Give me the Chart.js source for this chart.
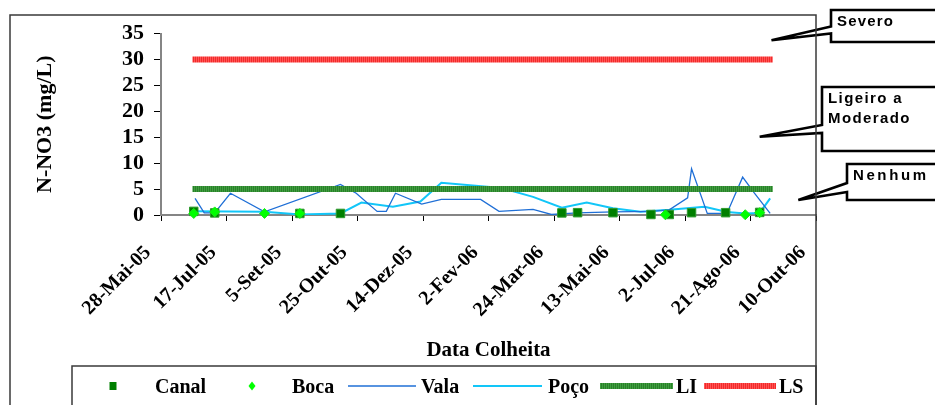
<!DOCTYPE html>
<html lang="pt">
<head>
<meta charset="utf-8">
<title>N-NO3 por data de colheita</title>
<script src="https://cdn.jsdelivr.net/npm/chart.js@4.4.1/dist/chart.umd.min.js"></script>
<style>
  html, body { margin: 0; padding: 0; background: #fff; }
  #wrap { width: 935px; height: 405px; position: relative; overflow: hidden; }
</style>
</head>
<body>
<div id="wrap"><canvas id="grafico" width="935" height="405"></canvas></div>
<script>
// Eixo das datas: dias contados a partir de 28-Mai-2005
const DATA_INICIO = Date.UTC(2005, 4, 28);
const tickStep = 50;
const tickLabels = ['28-Mai-05', '17-Jul-05', '5-Set-05', '25-Out-05', '14-Dez-05', '2-Fev-06',
                    '24-Mar-06', '13-Mai-06', '2-Jul-06', '21-Ago-06', '10-Out-06'];

// Canal (mg/L N-NO3)
const canalDatas = ['2005-06-22', '2005-07-08', '2005-09-11', '2005-10-12', '2006-03-30', '2006-04-11',
                    '2006-05-08', '2006-06-06', '2006-06-20', '2006-07-07', '2006-08-02', '2006-08-28'];
const canalValores = [0.7, 0.4, 0.3, 0.3, 0.4, 0.45, 0.45, 0.1, 0.1, 0.45, 0.45, 0.5];

// Boca
const bocaDatas = ['2005-06-22', '2005-07-08', '2005-08-15', '2005-09-11', '2006-06-17', '2006-08-17', '2006-08-28'];
const bocaValores = [0.3, 0.6, 0.3, 0.3, 0.05, 0.05, 0.45];

// Vala
const valaDatas = ['2005-06-23', '2005-06-30', '2005-07-08', '2005-07-20', '2005-08-15', '2005-10-12',
                   '2005-10-24', '2005-11-09', '2005-11-16', '2005-11-23', '2005-12-13', '2005-12-28',
                   '2006-01-27', '2006-02-10', '2006-03-08', '2006-03-22', '2006-04-11', '2006-05-08',
                   '2006-06-06', '2006-06-20', '2006-07-04', '2006-07-07', '2006-07-19', '2006-08-03',
                   '2006-08-15', '2006-08-24', '2006-09-05'];
const valaValores = [3.2, 0.4, 0.4, 4.2, 0.6, 5.9, 4.2, 0.7, 0.7, 4.2, 2.1, 3.0,
                     3.0, 0.7, 1.1, 0.1, 0.4, 0.6, 0.7, 1.0, 3.3, 8.9, 0.3, 0.3,
                     7.3, 4.2, 0.3];

// Poço
const pocoDatas = ['2005-06-22', '2005-08-15', '2005-09-11', '2005-10-12', '2005-10-28', '2005-11-21',
                   '2005-12-12', '2005-12-28', '2006-02-12', '2006-03-08', '2006-03-30', '2006-04-18',
                   '2006-05-08', '2006-05-29', '2006-06-20', '2006-07-17', '2006-08-03', '2006-08-17',
                   '2006-08-28', '2006-09-05'];
const pocoValores = [0.7, 0.65, 0.1, 0.3, 2.4, 1.6, 2.6, 6.2, 5.2, 3.5, 1.4, 2.4,
                     1.3, 0.65, 1.0, 1.6, 0.6, 0.3, 0.4, 3.2];

// Limites inferior (LI) e superior (LS)
const limiteDatas = ['2005-06-21', '2006-09-07'];
const liValores = [5, 5];
const lsValores = [30, 30];

// Classes de risco indicadas à direita do gráfico
const classesTexto = [['Severo'], ['Ligeiro a', 'Moderado'], ['Nenhum']];
const classesValor = [33.7, 15.1, 2.9];

const dia = s => (Date.parse(s + 'T00:00:00Z') - DATA_INICIO) / 86400000;
const pontos = (datas, valores) => datas.map((d, i) => ({ x: dia(d), y: valores[i] }));

// Padrão riscado das linhas de limite
function riscado(claro, escuro) {
  const c = document.createElement('canvas');
  c.width = 2; c.height = 2;
  const g = c.getContext('2d');
  g.fillStyle = claro; g.fillRect(0, 0, 1, 2);
  g.fillStyle = escuro; g.fillRect(1, 0, 1, 2);
  return g.createPattern(c, 'repeat');
}
const verdeLI = riscado('#3f9f3f', '#2a7f2a');
const vermelhoLS = riscado('#ff5555', '#f22a2a');

const SERIF = '"Liberation Serif", "Times New Roman", serif';
const SANS = '"Liberation Sans", Arial, sans-serif';

// Moldura, legenda e caixas de classes
const decoracao = {
  id: 'decoracao',
  afterDraw(chart) {
    const ctx = chart.ctx;
    const xs = chart.scales.x, ys = chart.scales.y;
    ctx.save();

    // caixas de classes com seta
    const caixas = [
      { l: 831, t: 10, b: 42, w1: 26.5, w2: 33.5, dia: 466, tx: 837, linhas: [26], esp: 1.2 },
      { l: 822, t: 87, b: 151, w1: 125, w2: 133, dia: 457, tx: 828, linhas: [103, 123], esp: 1.4 },
      { l: 847, t: 164, b: 200, w1: 183, w2: 192, dia: 486.5, tx: 853, linhas: [180], esp: 2.6 }
    ];
    caixas.forEach((c, i) => {
      const px = xs.getPixelForValue(c.dia), py = ys.getPixelForValue(classesValor[i]);
      ctx.beginPath();
      ctx.moveTo(c.l, c.t);
      ctx.lineTo(950, c.t);
      ctx.lineTo(950, c.b);
      ctx.lineTo(c.l, c.b);
      ctx.lineTo(c.l, c.w2);
      ctx.lineTo(px, py);
      ctx.lineTo(c.l, c.w1);
      ctx.closePath();
      ctx.fillStyle = '#fff';
      ctx.fill();
      ctx.lineWidth = 2.6;
      ctx.lineJoin = 'miter';
      ctx.strokeStyle = '#000';
      ctx.stroke();
      ctx.fillStyle = '#000';
      ctx.font = 'bold 15px ' + SANS;
      ctx.textAlign = 'left';
      ctx.textBaseline = 'alphabetic';
      ctx.letterSpacing = c.esp + 'px';
      classesTexto[i].forEach((t, k) => ctx.fillText(t, c.tx, c.linhas[k]));
    });
    ctx.letterSpacing = '0px';

    // moldura da área do gráfico
    ctx.strokeStyle = '#3a3a3a';
    ctx.lineWidth = 1.5;
    ctx.strokeRect(10, 15, 806, 420);

    // legenda
    ctx.strokeStyle = '#3a3a3a';
    ctx.lineWidth = 1.5;
    ctx.strokeRect(72, 366, 744, 60);
    const yLeg = 386;
    const itens = [
      { a: 113, texto: 155 }, { a: 252, texto: 292 },
      { a: 348, b: 416, texto: 421 }, { a: 473, b: 542, texto: 548 },
      { a: 600, b: 673, texto: 676 }, { a: 704, b: 776, texto: 779 }
    ];
    chart.data.datasets.forEach((ds, i) => {
      const it = itens[i];
      if (ds.showLine) {
        ctx.beginPath();
        ctx.moveTo(it.a, yLeg);
        ctx.lineTo(it.b, yLeg);
        ctx.strokeStyle = ds.borderColor;
        ctx.lineWidth = Math.max(ds.borderWidth, 1.6);
        ctx.lineCap = 'butt';
        ctx.stroke();
      } else {
        ctx.fillStyle = ds.backgroundColor;
        ctx.beginPath();
        if (ds.pointStyle === 'rect') {
          ctx.rect(it.a - 3.5, yLeg - 4, 7, 8);
        } else {
          ctx.moveTo(it.a, yLeg - 4.5);
          ctx.lineTo(it.a + 3.5, yLeg);
          ctx.lineTo(it.a, yLeg + 4.5);
          ctx.lineTo(it.a - 3.5, yLeg);
          ctx.closePath();
        }
        ctx.fill();
      }
      ctx.fillStyle = '#000';
      ctx.font = 'bold 20px ' + SERIF;
      ctx.textAlign = 'left';
      ctx.textBaseline = 'alphabetic';
      ctx.fillText(ds.label, it.texto, 393);
    });
    ctx.restore();
  }
};

new Chart(document.getElementById('grafico'), {
  type: 'scatter',
  data: {
    datasets: [
      { label: 'Canal', data: pontos(canalDatas, canalValores), showLine: false,
        pointStyle: 'rect', pointRadius: 6, backgroundColor: '#007f00', borderColor: '#2f9a2f',
        pointBorderWidth: 1, order: 1, clip: false },
      { label: 'Boca', data: pontos(bocaDatas, bocaValores), showLine: false,
        pointStyle: 'rectRot', pointRadius: 5, backgroundColor: '#00ff00', borderColor: '#19e619',
        pointBorderWidth: 1, order: 0, clip: false },
      { label: 'Vala', data: pontos(valaDatas, valaValores), showLine: true,
        borderColor: '#1f6fd6', backgroundColor: '#1f6fd6', borderWidth: 1.3, pointRadius: 0,
        tension: 0, order: 3 },
      { label: 'Poço', data: pontos(pocoDatas, pocoValores), showLine: true,
        borderColor: '#12c6f8', backgroundColor: '#12c6f8', borderWidth: 2, pointRadius: 0,
        tension: 0, order: 3 },
      { label: 'LI', data: pontos(limiteDatas, liValores), showLine: true,
        borderColor: verdeLI, backgroundColor: '#2f8f2f', borderWidth: 6, pointRadius: 0,
        borderCapStyle: 'butt', order: 2 },
      { label: 'LS', data: pontos(limiteDatas, lsValores), showLine: true,
        borderColor: vermelhoLS, backgroundColor: '#ff3333', borderWidth: 6, pointRadius: 0,
        borderCapStyle: 'butt', order: 2 }
    ]
  },
  options: {
    responsive: false,
    animation: false,
    events: [],
    layout: { padding: { left: 0, top: 33.5, right: 119, bottom: 0 } },
    plugins: { legend: { display: false }, tooltip: { enabled: false } },
    scales: {
      x: {
        type: 'linear',
        min: 0,
        max: tickStep * (tickLabels.length - 1),
        afterBuildTicks: s => { s.ticks = tickLabels.map((_, i) => ({ value: i * tickStep })); },
        afterFit: s => { s.height = 190; },
        ticks: {
          autoSkip: false, minRotation: 45, maxRotation: 45, padding: 20, labelOffset: -13,
          color: '#000', font: { family: SERIF, weight: 'bold', size: 20 },
          callback: v => tickLabels[Math.round(v / tickStep)]
        },
        grid: { drawOnChartArea: false, drawTicks: true, tickLength: 6, tickColor: '#000', tickWidth: 1 },
        border: { color: '#858585', width: 2 },
        title: { display: true, text: 'Data Colheita', color: '#000',
                 font: { family: SERIF, weight: 'bold', size: 21 }, padding: { top: 0, bottom: 42 } }
      },
      y: {
        min: 0, max: 35,
        afterFit: s => { s.width = 161; },
        ticks: { stepSize: 5, autoSkip: false, padding: 10, color: '#000',
                 font: { family: SERIF, weight: 'bold', size: 22 } },
        grid: { drawOnChartArea: false, drawTicks: true, tickLength: 7, tickColor: '#000', tickWidth: 1 },
        border: { color: '#858585', width: 2 },
        title: { display: true, text: 'N-NO3 (mg/L)', color: '#000',
                 font: { family: SERIF, weight: 'bold', size: 22 }, padding: { top: 32, bottom: 0 } }
      }
    }
  },
  plugins: [decoracao]
});
</script>
</body>
</html>
